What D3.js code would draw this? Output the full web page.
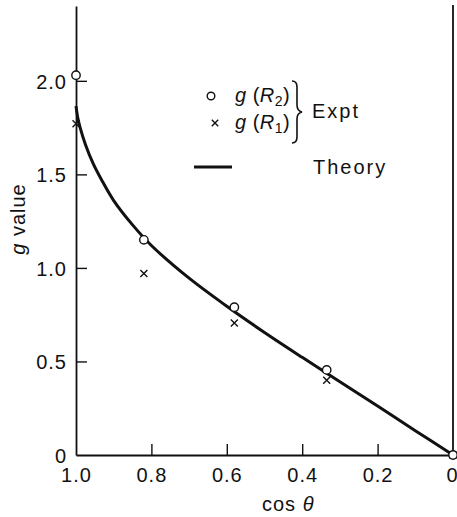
<!DOCTYPE html>
<html>
<head>
<meta charset="utf-8">
<script src="https://cdn.jsdelivr.net/npm/d3@7"></script>
<style>
  html, body { margin: 0; padding: 0; background: #fff; }
  svg { display: block; }
  text { font-family: "Liberation Sans", Arial, sans-serif; fill: #111; }
</style>
</head>
<body>
<svg id="chart" width="457" height="517"></svg>
<script>
// Measured g values against cos(theta)
const cosTheta = [1.0, 0.82, 0.58, 0.335, 0];
const gR2 = [2.03, 1.15, 0.79, 0.455, 0];
const gR1 = [1.77, 0.97, 0.705, 0.40, 0];

// Theoretical curve
const theoryCos = [1.0, 0.995, 0.989, 0.975, 0.955, 0.932, 0.90, 0.85, 0.80, 0.70, 0.60, 0.50, 0.40, 0.30, 0.20, 0.10, 0];
const theoryG   = [1.865, 1.80, 1.75, 1.66, 1.56, 1.47, 1.36, 1.23, 1.12, 0.945, 0.795, 0.655, 0.522, 0.392, 0.262, 0.13, 0];

const xTicks = [1.0, 0.8, 0.6, 0.4, 0.2, 0];
const yTicks = [0, 0.5, 1.0, 1.5, 2.0];

const svg = d3.select("#chart");
const plotLeft = 76, plotRight = 453, plotTop = 6, plotBottom = 455;

const x = d3.scaleLinear().domain([1, 0]).range([plotLeft, plotRight]);
const y = d3.scaleLinear().domain([0, 2.4]).range([plotBottom, plotTop]);

const fmt = d => d === 0 ? "0" : d.toFixed(1);

// Axes with inward ticks
const yAxis = svg.append("g")
  .attr("transform", `translate(${plotLeft},0)`)
  .call(d3.axisLeft(y).tickValues(yTicks).tickSizeInner(-11).tickSizeOuter(0).tickPadding(20).tickFormat(fmt));
const xAxis = svg.append("g")
  .attr("transform", `translate(0,${plotBottom})`)
  .call(d3.axisBottom(x).tickValues(xTicks).tickSizeInner(-11).tickSizeOuter(0).tickPadding(20).tickFormat(fmt));

[yAxis, xAxis].forEach(a => {
  a.select(".domain").attr("stroke", "#111").attr("stroke-width", 1.8);
  a.selectAll(".tick line").attr("stroke", "#111").attr("stroke-width", 1.4);
  a.selectAll(".tick text")
    .attr("font-family", "Liberation Sans, Arial, sans-serif")
    .attr("font-size", 20).attr("letter-spacing", 1).attr("fill", "#111");
});
yAxis.selectAll(".tick text").attr("x", -9).attr("dy", "0.36em");
yAxis.selectAll(".tick").filter(d => d === 0).select("line").remove();
xAxis.selectAll(".tick").filter(d => d === 1 || d === 0).select("line").remove();
xAxis.selectAll(".tick text").attr("y", 13);
// keep the right-most label inside the frame
xAxis.selectAll(".tick").filter(d => d === 0).select("text")
  .attr("text-anchor", "end").attr("letter-spacing", 0).attr("x", 4);

// Right-hand frame line
svg.append("line")
  .attr("x1", x(0)).attr("x2", x(0)).attr("y1", plotTop - 1).attr("y2", plotBottom)
  .attr("stroke", "#111").attr("stroke-width", 1.8);

// Axis titles
svg.append("text")
  .attr("x", 262).attr("y", 511)
  .attr("font-size", 20).attr("letter-spacing", 1)
  .html('cos <tspan font-style="italic">θ</tspan>');

svg.append("text")
  .attr("transform", "translate(25,219) rotate(-90)")
  .attr("text-anchor", "middle")
  .attr("font-size", 20).attr("letter-spacing", 1)
  .html('<tspan font-style="italic">g</tspan> value');

// Theory curve
const line = d3.line()
  .x((d, i) => x(theoryCos[i]))
  .y(d => y(d))
  .curve(d3.curveCatmullRom.alpha(0.5));
svg.append("path")
  .attr("d", line(theoryG))
  .attr("fill", "none").attr("stroke", "#111").attr("stroke-width", 3);

// Crosses: g(R1)
const cross = (g, cx, cy, s) => {
  g.append("path")
    .attr("d", `M${cx - s},${cy - s}L${cx + s},${cy + s}M${cx - s},${cy + s}L${cx + s},${cy - s}`)
    .attr("stroke", "#111").attr("stroke-width", 1.4).attr("fill", "none");
};
const pts = svg.append("g");
gR1.forEach((v, i) => cross(pts, x(cosTheta[i]), y(v), 3.5));

// Circles: g(R2)
pts.selectAll("circle")
  .data(gR2)
  .join("circle")
  .attr("cx", (d, i) => x(cosTheta[i]))
  .attr("cy", d => y(d))
  .attr("r", 4.2)
  .attr("fill", "#fff").attr("stroke", "#111").attr("stroke-width", 1.4);

// Legend
const lg = svg.append("g");
lg.append("circle").attr("cx", 211).attr("cy", 96).attr("r", 3.8)
  .attr("fill", "#fff").attr("stroke", "#111").attr("stroke-width", 1.4);
cross(lg, 215, 123, 3.2);

lg.append("text").attr("x", 235).attr("y", 102).attr("font-size", 20).attr("letter-spacing", 0.5)
  .html('<tspan font-style="italic">g</tspan> (<tspan font-style="italic">R</tspan><tspan font-size="14" dy="4">2</tspan><tspan dy="-4">)</tspan>');
lg.append("text").attr("x", 235).attr("y", 129).attr("font-size", 20).attr("letter-spacing", 0.5)
  .html('<tspan font-style="italic">g</tspan> (<tspan font-style="italic">R</tspan><tspan font-size="14" dy="4">1</tspan><tspan dy="-4">)</tspan>');

lg.append("path")
  .attr("d", "M292,81 Q297,81 297,87 L297,105 Q297,111 302,112 Q297,113 297,119 L297,137 Q297,143 292,143")
  .attr("fill", "none").attr("stroke", "#111").attr("stroke-width", 1.6);

lg.append("text").attr("x", 312).attr("y", 118).attr("font-size", 20).attr("letter-spacing", 2).text("Expt");

lg.append("line").attr("x1", 194).attr("x2", 232).attr("y1", 167).attr("y2", 167)
  .attr("stroke", "#111").attr("stroke-width", 3);
lg.append("text").attr("x", 313).attr("y", 174).attr("font-size", 20).attr("letter-spacing", 2).text("Theory");
</script>
</body>
</html>
